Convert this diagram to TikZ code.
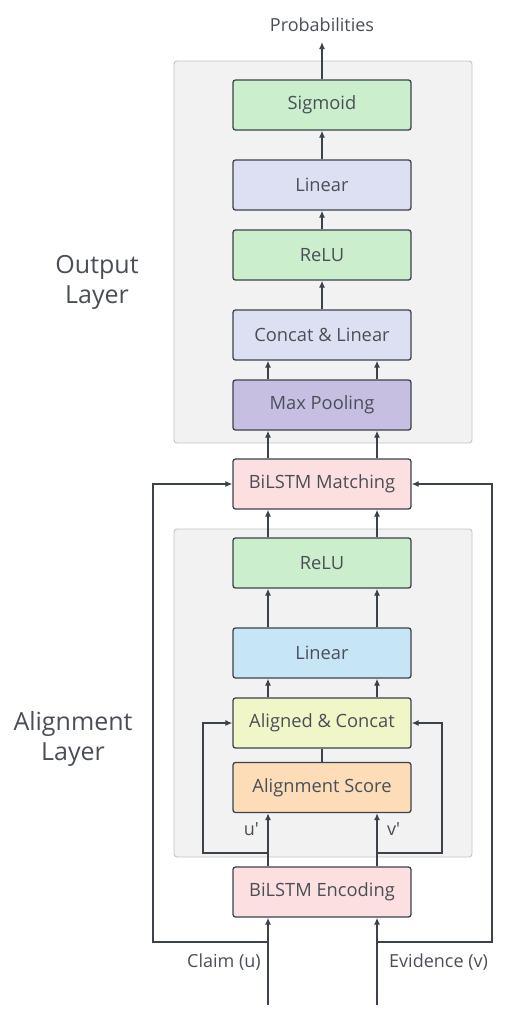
\documentclass[tikz,border=0pt]{standalone}
\usepackage{fontspec}
\setmainfont{Open Sans}
\usetikzlibrary{arrows.meta}
\definecolor{ln}{HTML}{3C424B}
\definecolor{txt}{HTML}{4A4F57}
\definecolor{grp}{HTML}{F2F2F2}
\definecolor{grpb}{HTML}{C4C4C4}
\definecolor{cgreen}{HTML}{CBEECD}
\definecolor{clav}{HTML}{DDE0F2}
\definecolor{cpurp}{HTML}{C6BFE1}
\definecolor{cpink}{HTML}{FCE0E1}
\definecolor{cblue}{HTML}{C6E6F6}
\definecolor{cyell}{HTML}{F1F6C8}
\definecolor{corange}{HTML}{FCDDB8}
\tikzset{
  blk/.style={draw=ln, line width=1.3pt, rounded corners=2.5pt, minimum width=178pt, minimum height=50pt, inner sep=0pt, text=txt, font=\fontsize{18.3}{22}\selectfont},
  grpbox/.style={draw=grpb, fill=grp, line width=0.9pt, rounded corners=3pt},
  arr/.style={draw=ln, line width=1.3pt, -{Latex[length=7pt,width=6pt]}},
  ln/.style={draw=ln, line width=1.3pt},
  lbl/.style={text=txt, font=\fontsize{18}{22}\selectfont, inner sep=0pt},
  big/.style={text=txt, font=\fontsize{25}{30}\selectfont, align=center, inner sep=0pt}
}
\begin{document}
\begin{tikzpicture}[x=1pt,y=-1pt]
\useasboundingbox (0,0) rectangle (522,1018);
% groups
\draw[grpbox] (174,61) rectangle (472,443);
\draw[grpbox] (174,529) rectangle (472,857);
% blocks
\node[blk, fill=cgreen] (sig) at (322,105) {Sigmoid};
\node[blk, fill=clav] (lin1) at (322,185) {Linear};
\node[blk, fill=cgreen] (relu1) at (322,255) {ReLU};
\node[blk, fill=clav] (cat) at (322,335) {Concat \& Linear};
\node[blk, fill=cpurp] (mp) at (322,405) {Max Pooling};
\node[blk, fill=cpink] (bm) at (322,484) {BiLSTM Matching};
\node[blk, fill=cgreen] (relu2) at (322,563) {ReLU};
\node[blk, fill=cblue] (lin2) at (322,653) {Linear};
\node[blk, fill=cyell] (ac) at (322,723) {Aligned \& Concat};
\node[blk, fill=corange] (as) at (322,787.5) {Alignment Score};
\node[blk, fill=cpink] (be) at (322,892) {BiLSTM Encoding};
% labels
\node[lbl] (prob) at (322,25) {Probabilities};
\node[big] (ol) at (97,282) {Output\\Layer};
\node[big] (al) at (73,739) {Alignment\\Layer};
\node[lbl, anchor=east] (cl) at (261,962) {Claim (u)};
\node[lbl, anchor=west] (ev) at (389,962) {Evidence (v)};
\node[lbl, anchor=east] (up) at (259,829) {u\textquotesingle};
\node[lbl, anchor=west] (vp) at (387,829) {v\textquotesingle};
% coordinates
\coordinate (inL) at (268,1005);
\coordinate (inR) at (377,1005);
\coordinate (oL) at (153,942);
\coordinate (oR) at (492,942);
\coordinate (aL) at (203,853);
\coordinate (aR) at (442,853);
% connectors
\draw[arr] (sig.north) -- (322,42);
\draw[arr] (lin1.north) -- (sig.south);
\draw[arr] (relu1.north) -- (lin1.south);
\draw[arr] (cat.north) -- (relu1.south);
\draw[arr] (mp.north -| inL) -- (cat.south -| inL);
\draw[arr] (mp.north -| inR) -- (cat.south -| inR);
\draw[arr] (bm.north -| inL) -- (mp.south -| inL);
\draw[arr] (bm.north -| inR) -- (mp.south -| inR);
\draw[arr] (relu2.north -| inL) -- (bm.south -| inL);
\draw[arr] (relu2.north -| inR) -- (bm.south -| inR);
\draw[arr] (lin2.north -| inL) -- (relu2.south -| inL);
\draw[arr] (lin2.north -| inR) -- (relu2.south -| inR);
\draw[arr] (ac.north -| inL) -- (lin2.south -| inL);
\draw[arr] (ac.north -| inR) -- (lin2.south -| inR);
\draw[ln] (as.north) -- (ac.south);
\draw[arr] (be.north -| inL) -- (as.south -| inL);
\draw[arr] (be.north -| inR) -- (as.south -| inR);
\draw[arr] (aL -| inL) -- (aL) |- (ac.west);
\draw[arr] (aR -| inR) -- (aR) |- (ac.east);
\draw[arr] (inL) -- (be.south -| inL);
\draw[arr] (inR) -- (be.south -| inR);
\draw[arr] (oL -| inL) -- (oL) |- (bm.west);
\draw[arr] (oR -| inR) -- (oR) |- (bm.east);
\end{tikzpicture}
\end{document}
